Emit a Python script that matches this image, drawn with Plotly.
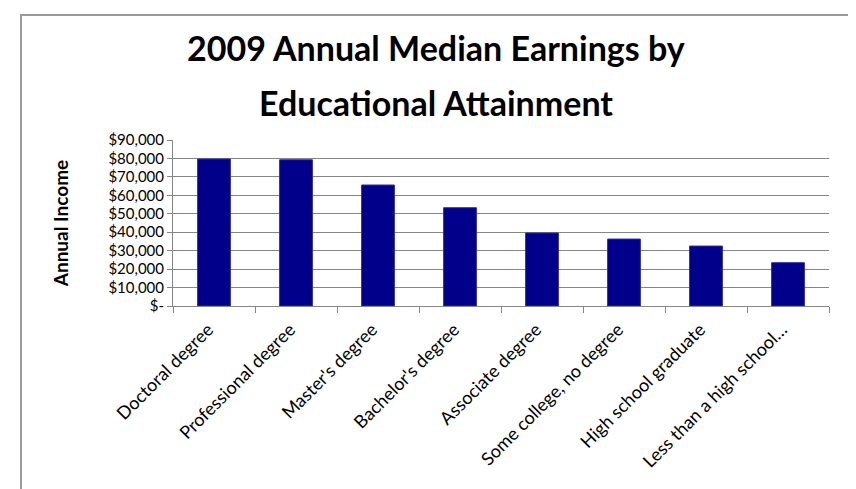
import plotly.graph_objects as go

categories = ["Doctoral degree", "Professional degree", "Master's degree",
              "Bachelor's degree", "Associate degree", "Some college, no degree",
              "High school graduate", "Less than a high school\u2026"]
earnings = [79700, 79300, 65600, 53300, 39600, 36300, 32500, 23500]
ytick_vals = [0, 10000, 20000, 30000, 40000, 50000, 60000, 70000, 80000, 90000]
ytick_text = ["$-", "$10,000", "$20,000", "$30,000", "$40,000", "$50,000",
              "$60,000", "$70,000", "$80,000", "$90,000"]
title_lines = ["2009 Annual Median Earnings by", "Educational Attainment"]

font = "Lato, 'Open Sans', sans-serif"
grey = "#868686"

fig = go.Figure(go.Bar(x=categories, y=earnings, marker_color="#00008B",
                       marker_line=dict(color="#3030A0", width=1)))

# page body has an 8px margin, so the figure is sized to the remaining viewport
fig.update_layout(
    width=848, height=481,
    margin=dict(l=165, r=27, t=132, b=183, autoexpand=False),
    paper_bgcolor="white", plot_bgcolor="white",
    bargap=0.6, showlegend=False,
    font=dict(family=font, size=15, color="black"),
)
fig.update_xaxes(showline=True, linecolor=grey, linewidth=1,
                 ticks="outside", tickson="boundaries", ticklen=6, tickcolor=grey,
                 tickangle=-45, tickfont=dict(size=18), automargin=False,
                 ticklabelstandoff=5, ticklabelshift=-6)
fig.update_yaxes(range=[0, 90000], tickvals=ytick_vals, ticktext=ytick_text,
                 showline=True, linecolor=grey, linewidth=1,
                 ticks="outside", ticklen=5, tickcolor=grey,
                 showgrid=True, gridcolor=grey, gridwidth=1,
                 tickfont=dict(size=15), automargin=False,
                 title=dict(text="<b>Annual Income</b>", font=dict(size=19), standoff=34))

# two-line title
for text, ypos in zip(title_lines, [1.557, 1.226]):
    fig.add_annotation(text=f"<b>{text}</b>", x=0.401, y=ypos, xref="paper", yref="paper",
                       xanchor="center", yanchor="middle", showarrow=False,
                       font=dict(family=font, size=34, color="black"))

# chart frame
fig.add_shape(type="rect", xref="paper", yref="paper",
              x0=-0.2317, x1=1.0305, y0=-1.2, y1=1.753,
              line=dict(color="#9a9a9a", width=2), layer="below")

fig.write_html("out.html")
